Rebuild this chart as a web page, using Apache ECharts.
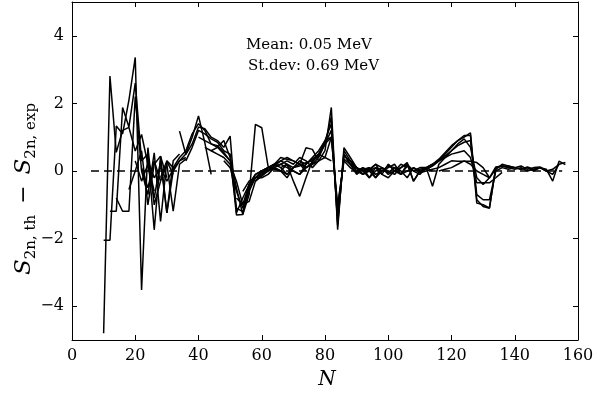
<!DOCTYPE html>
<html>
<head>
<meta charset="utf-8">
<script src="https://cdn.jsdelivr.net/npm/echarts@6/dist/echarts.min.js"></script>
<style>
html,body{margin:0;padding:0;background:#fff;}
#chart{width:597px;height:397px;}
</style>
</head>
<body>
<div id="chart"></div>
<script>
// x ticks / y ticks
const xTicks = [0, 20, 40, 60, 80, 100, 120, 140, 160];
const yTicks = [-4, -2, 0, 2, 4];
const stepN = 2;

// isotopic chains: start neutron number + S2n(th) - S2n(exp) values every 2 neutrons
const chainA = [-4.8, 2.81, 0.55, 1.2, 1.29, 0.59, 1.08, 0.2, -0.6];
const chainB = [-2.05, -2.05, 1.33, 1.1, 2.1, 3.36, -3.52, 0.69, -1.0, -0.3];
const chainC = [-1.19, -1.19, 1.88, 1.3, 2.6, 0.3, 0.5, -1.74, 0.44, -0.2];
const chainD = [-0.8, -1.19, -1.19, 2.2, 0.0, -0.7, 0.54, -1.49, 0.29, -0.1];
const chainE = [-0.55, 0.0, 0.6, -1.0, 0.2, 0.44, -1.24, 0.3, 0.5];
const chainF = [0.3, -0.3, 0.2, -0.8, 0.3, -1.24, 0.0, 0.3, 0.4];
const chainG = [0.1, -0.5, 0.3, -0.3, 0.2, -1.19, 0.2, 0.35];
const chainM1 = [0.3, -0.2, 0.1, -0.3, 0.05, 0.3, 0.5, 1.0, 1.63, 0.84, -0.1];
const chainM2 = [-0.2, 0.3, 0.1, 0.4, 0.6, 1.1, 1.4, 1.2, 0.8, 0.7, 0.5, 0.3];
const chainM3 = [1.18, 0.49, 0.8, 1.3, 1.25, 1.0, 0.9, 0.7, 1.03, -1.24, -0.8, -0.4, -0.2];
const chainM4 = [0.3, 0.7, 1.2, 1.1, 0.95, 0.85, 0.6, 0.5, -1.3, -1.29, -0.4, -0.1, 0.0, 0.1];
const chainM5 = [1.0, 0.9, 0.8, 0.75, 0.55, 0.3, -1.1, -1.2, -0.6, -0.2, -0.1, 0.1, 0.2, 0.1, -0.1];
const chainM6 = [0.7, 0.6, 0.7, 0.9, 0.4, -0.5, -1.29, -0.7, 1.38, 1.28, 0.14, 0.05, 0.0, -0.1, 0.1, 0.2, 0.0];
const chainM7 = [0.6, 0.5, 0.4, 0.2, -0.3, -1.0, -0.9, -0.3, -0.1, 0.0, 0.1, 0.2, 0.3, 0.2, 0.4, 0.3, 0.1, 0.3];
const chainM8 = [0.3, 0.1, -0.6, -1.1, -0.5, -0.2, -0.2, -0.1, 0.1, 0.0, 0.2, -0.3, -0.75, -0.2, 0.3, 0.5, 0.4, 0.3];
const chainM9 = [-0.8, -1.0, -0.4, -0.1, 0.0, 0.1, 0.2, 0.4, 0.35, 0.3, 0.2, 0.69, 0.64, 0.3, 0.4, 1.0];
const chainM10 = [-0.6, -0.3, -0.2, 0.0, 0.1, 0.2, 0.3, 0.4, 0.3, 0.2, 0.1, 0.2, 0.3, 0.6, 1.88, -1.74, 0.69, 0.4, 0.1];
const chainM11 = [-0.4, -0.2, -0.05, 0.05, 0.15, 0.2, 0.1, 0.0, -0.1, 0.1, 0.2, 0.4, 0.8, 1.6, -1.6, 0.6, 0.3, 0.0, -0.1, 0.1];
const chainM12 = [-0.3, -0.15, 0.0, 0.1, 0.0, -0.2, 0.1, 0.3, 0.2, 0.35, 0.5, 0.9, 1.4, -1.5, 0.5, 0.2, 0.1, 0.0, -0.2, 0.1, 0.0];
const chainM13 = [0.0, 0.15, 0.3, 0.2, 0.1, 0.15, 0.25, 0.3, 0.45, 0.8, 1.2, -1.3, 0.45, 0.3, 0.1, -0.1, 0.05, 0.2, -0.1, -0.2, 0.0, 0.1];
const chainM14 = [0.1, 0.2, 0.0, -0.1, 0.2, 0.4, 0.6, 0.9, 1.0, -1.1, 0.35, 0.2, 0.0, 0.1, -0.2, 0.0, 0.1, -0.1, 0.0, 0.2, 0.1];
const chainM15 = [0.3, 0.1, 0.25, 0.5, 0.8, 1.0, -1.0, 0.3, 0.1, -0.05, 0.1, 0.0, -0.2, 0.1, 0.0, -0.1, 0.1, 0.2, 0.0, -0.1, 0.1, 0.0];
const chainH1 = [0.3, 0.1, 0.0, 0.1, -0.1, 0.0, 0.1, 0.2, -0.1, 0.0, 0.1, -0.05, 0.0, 0.05, 0.1, 0.2, 0.3, 0.29, 0.29, 0.29, 0.25, 0.1, -0.2];
const chainH2 = [0.5, 0.2, -0.1, 0.05, 0.1, -0.2, 0.0, 0.15, 0.1, -0.1, 0.2, -0.3, 0.0, 0.05, 0.15, 0.3, 0.4, 0.5, 0.55, 0.6, 0.4, -0.35, -0.35, -0.35, -0.2, -0.04];
const chainH3 = [0.1, -0.1, 0.0, 0.2, 0.1, -0.05, 0.1, 0.0, -0.2, 0.1, 0.0, 0.1, -0.45, 0.2, 0.4, 0.6, 0.75, 0.85, 0.9, -0.7, -0.85, -0.85, 0.0, 0.1, 0.05, 0.1];
const chainH4 = [0.0, 0.1, -0.1, 0.2, 0.0, -0.1, 0.15, 0.0, 0.05, 0.1, 0.2, 0.35, 0.55, 0.75, 0.9, 1.05, 1.05, -0.95, -1.0, -1.09, 0.1, 0.15, 0.1, 0.05, 0.1, 0.0, 0.05, 0.1, 0.0];
const chainH5 = [0.2, 0.0, 0.1, 0.25, -0.3, 0.0, 0.05, 0.15, 0.3, 0.5, 0.7, 0.9, 1.0, 1.13, -0.85, -1.05, -1.1, 0.1, 0.14, 0.15, 0.1, 0.05, 0.1, 0.0, 0.1, 0.05, -0.3, 0.29, 0.19];
const chainH6 = [0.0, 0.1, 0.1, 0.2, 0.3, 0.45, 0.6, 0.8, 0.95, 0.7, -0.2, -0.4, -0.2, 0.12, 0.15, 0.1, 0.1, 0.05, 0.12, 0.05, 0.1, 0.0, -0.1, 0.2, 0.25];
const chainH7 = [0.0, 0.05, 0.1, 0.2, 0.3, 0.2, 0.0, -0.1, -0.2, 0.05, 0.2, 0.15, 0.1, 0.15, 0.05, 0.1, 0.12, 0.0, 0.05, 0.2];

const chainStarts = [10, 10, 12, 14, 18, 20, 22, 24, 28, 34, 36, 40, 42, 44, 48, 52, 54, 56, 58, 62, 66, 72, 88, 86, 90, 94, 100, 108, 116];
const chainList = [chainA, chainB, chainC, chainD, chainE, chainF, chainG, chainM1, chainM2, chainM3, chainM4, chainM5, chainM6, chainM7, chainM8, chainM9, chainM10, chainM11, chainM12, chainM13, chainM14, chainM15, chainH1, chainH2, chainH3, chainH4, chainH5, chainH6, chainH7];

const zeroLineN = [6, 155];
const zeroLineV = [0, 0];

const chart = echarts.init(document.getElementById('chart'), null, {renderer: 'canvas'});
const serif = 'DejaVu Serif';
const series = [];
series.push({
  type: 'line', data: zeroLineN.map((n, i) => [n, zeroLineV[i]]),
  symbol: 'none', silent: true, animation: false,
  lineStyle: {color: '#000', width: 1.5, type: [8, 5]}
});
chainList.forEach((vals, k) => {
  series.push({
    type: 'line', symbol: 'none', animation: false, silent: true,
    data: vals.map((v, i) => [chainStarts[k] + stepN * i, v]),
    lineStyle: {color: '#000', width: 1.5}
  });
});

const minus = v => String(v).replace('-', '\u2212');
const axisCommon = {
  axisLine: {show: true, onZero: false, lineStyle: {color: '#000', width: 1}},
  splitLine: {show: false},
};
chart.setOption({
  animation: false,
  backgroundColor: '#fff',
  grid: {left: 72, right: 19, top: 2, bottom: 57},
  xAxis: [
    Object.assign({type: 'value', min: 0, max: 160, interval: 20, position: 'bottom',
      axisTick: {inside: true, length: 5, lineStyle: {color: '#000'}},
      axisLabel: {margin: 8, color: '#000', fontFamily: serif, fontSize: 16, formatter: minus}}, axisCommon),
    Object.assign({type: 'value', min: 0, max: 160, interval: 20, position: 'top',
      axisTick: {inside: true, length: 5, lineStyle: {color: '#000'}},
      axisLabel: {show: false}}, axisCommon)
  ],
  yAxis: [
    Object.assign({type: 'value', min: -5, max: 5, position: 'left',
      axisTick: {inside: true, length: 5, customValues: yTicks, lineStyle: {color: '#000'}},
      axisLabel: {margin: 8, color: '#000', fontFamily: serif, fontSize: 16, customValues: yTicks, formatter: minus}}, axisCommon),
    Object.assign({type: 'value', min: -5, max: 5, position: 'right',
      axisTick: {inside: true, length: 5, customValues: yTicks, lineStyle: {color: '#000'}},
      axisLabel: {show: false, customValues: yTicks}}, axisCommon)
  ],
  series: series,
  graphic: [
    {type: 'text', x: 246, y: 45, style: {text: 'Mean: 0.05 MeV', fontFamily: serif, fontSize: 15, fill: '#000', textAlign: 'left', textVerticalAlign: 'middle'}},
    {type: 'text', x: 248, y: 66, style: {text: 'St.dev: 0.69 MeV', fontFamily: serif, fontSize: 15, fill: '#000', textAlign: 'left', textVerticalAlign: 'middle'}},
    {type: 'text', x: 327, y: 380, style: {text: 'N', fontFamily: serif, fontStyle: 'italic', fontSize: 20, fill: '#000', textAlign: 'center', textVerticalAlign: 'middle'}},
    {type: 'text', x: 24, y: 189, rotation: Math.PI / 2,
      style: {
        text: '{s|S}{sub|2n, th}{m|\u2002\u2212\u2002}{s|S}{sub|2n, exp}',
        textAlign: 'center', textVerticalAlign: 'middle', fill: '#000',
        rich: {
          s: {fontFamily: serif, fontStyle: 'italic', fontSize: 23, lineHeight: 30, verticalAlign: 'middle', fill: '#000'},
          sub: {fontFamily: serif, fontSize: 15, lineHeight: 30, verticalAlign: 'bottom', fill: '#000'},
          m: {fontFamily: serif, fontSize: 22, lineHeight: 30, verticalAlign: 'middle', fill: '#000'}
        }
      }}
  ]
});
</script>
</body>
</html>
